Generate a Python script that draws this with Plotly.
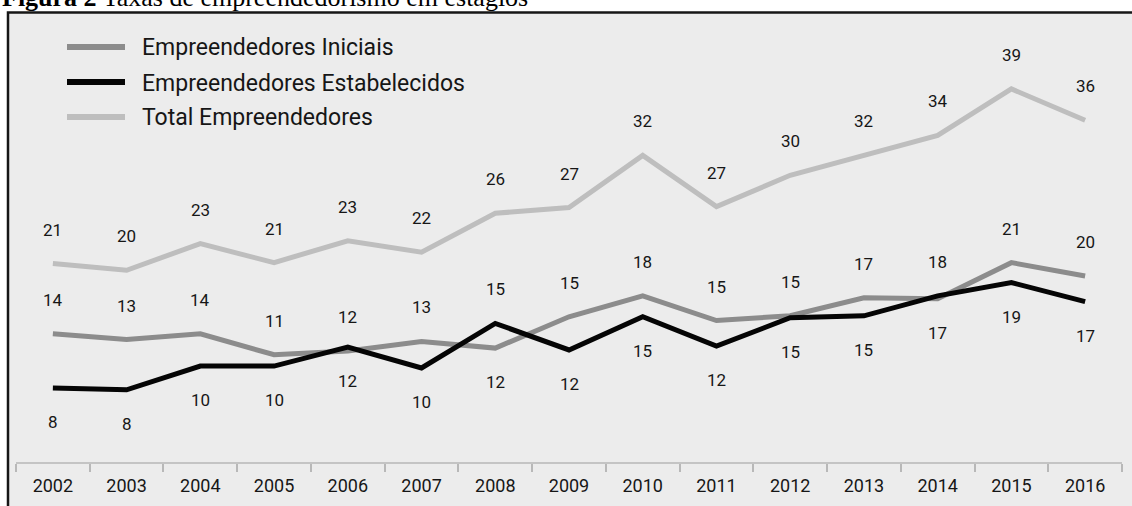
import plotly.graph_objects as go

# Taxas de empreendedorismo (%) por estágio, 2002-2016
anos = ["2002", "2003", "2004", "2005", "2006", "2007", "2008", "2009",
        "2010", "2011", "2012", "2013", "2014", "2015", "2016"]
iniciais = [13.5, 12.9, 13.5, 11.3, 11.7, 12.7, 12.0, 15.3, 17.5, 14.9, 15.4, 17.3, 17.2, 21.0, 19.6]
estabelecidos = [7.8, 7.6, 10.1, 10.1, 12.1, 9.9, 14.6, 11.8, 15.3, 12.2, 15.2, 15.4, 17.5, 18.9, 16.9]
total = [20.9, 20.2, 23.0, 21.0, 23.3, 22.1, 26.2, 26.8, 32.3, 26.9, 30.2, 32.3, 34.4, 39.3, 36.0]

# which side of the line each value label sits on (+1 above, -1 below)
lado_iniciais = [1, 1, 1, 1, 1, 1, -1, 1, 1, 1, 1, 1, -1, 1, 1]
lado_estabelecidos = [-1, -1, -1, -1, -1, -1, 1, -1, -1, -1, -1, -1, 1, -1, -1]
lado_total = [1] * len(anos)

W, H = 1132, 506
ML, MR, MT, MB = 16, 10, 12, 44
PW, PH = W - ML - MR, H - MT - MB
Y_MAX = 47.4

FONT = "Roboto"
TEXT = "#161616"

series = [
    ("Empreendedores Iniciais", iniciais, lado_iniciais, "#8c8c8c"),
    ("Empreendedores Estabelecidos", estabelecidos, lado_estabelecidos, "#050505"),
    ("Total Empreendedores", total, lado_total, "#bebebe"),
]


def px_x(x):
    return (x - ML) / PW


def px_y(y):
    return (H - MB - y) / PH


fig = go.Figure()
annotations = []
shapes = []

# boxed panel behind the chart
shapes.append(dict(type="rect", xref="paper", yref="paper", layer="below",
                   x0=px_x(8), x1=px_x(1145), y0=px_y(520), y1=px_y(12.5),
                   fillcolor="#ececec", line=dict(color="#161616", width=2.5)))

for nome, valores, lados, cor in series:
    fig.add_trace(go.Scatter(x=anos, y=valores, mode="lines", name=nome,
                             line=dict(color=cor, width=5), showlegend=False,
                             hoverinfo="x+y"))
    # category axes place annotations by category index
    for i, (v, lado) in enumerate(zip(valores, lados)):
        annotations.append(dict(x=i, y=v, xref="x", yref="y", text=f"{v:.0f}",
                                showarrow=False, yshift=34 * lado,
                                font=dict(family=FONT, size=17, color=TEXT)))

# legend drawn at the top-left corner of the panel
for i, (nome, valores, lados, cor) in enumerate(series):
    ly = 47 + 35 * i
    shapes.append(dict(type="line", xref="paper", yref="paper",
                       x0=px_x(67), x1=px_x(125), y0=px_y(ly), y1=px_y(ly),
                       line=dict(color=cor, width=6)))
    annotations.append(dict(xref="paper", yref="paper", x=px_x(140), y=px_y(ly + 1),
                            xanchor="left", yanchor="middle", showarrow=False,
                            text=nome, font=dict(family=FONT, size=23, color=TEXT)))

# caption above the panel
annotations.append(dict(xref="paper", yref="paper", x=px_x(0), y=px_y(14),
                        xanchor="left", yanchor="bottom", showarrow=False,
                        text="<b>Figura 2</b> Taxas de empreendedorismo em estágios",
                        font=dict(family="Liberation Serif", size=26, color="#000000")))

fig.update_layout(
    width=W, height=H,
    margin=dict(l=ML, r=MR, t=MT, b=MB, autoexpand=False),
    paper_bgcolor="#ffffff", plot_bgcolor="rgba(0,0,0,0)",
    shapes=shapes, annotations=annotations,
    xaxis=dict(type="category", showgrid=False, zeroline=False,
               showline=True, linecolor="#c4c4c4", linewidth=2,
               ticks="outside", tickson="boundaries", ticklen=8,
               tickcolor="#b8b8b8", tickwidth=1.5, ticklabelstandoff=6,
               tickfont=dict(family=FONT, size=18, color=TEXT),
               range=[-0.5, len(anos) - 0.5]),
    yaxis=dict(range=[0, Y_MAX], visible=False, showgrid=False, zeroline=False),
)

fig.write_html("out.html")
